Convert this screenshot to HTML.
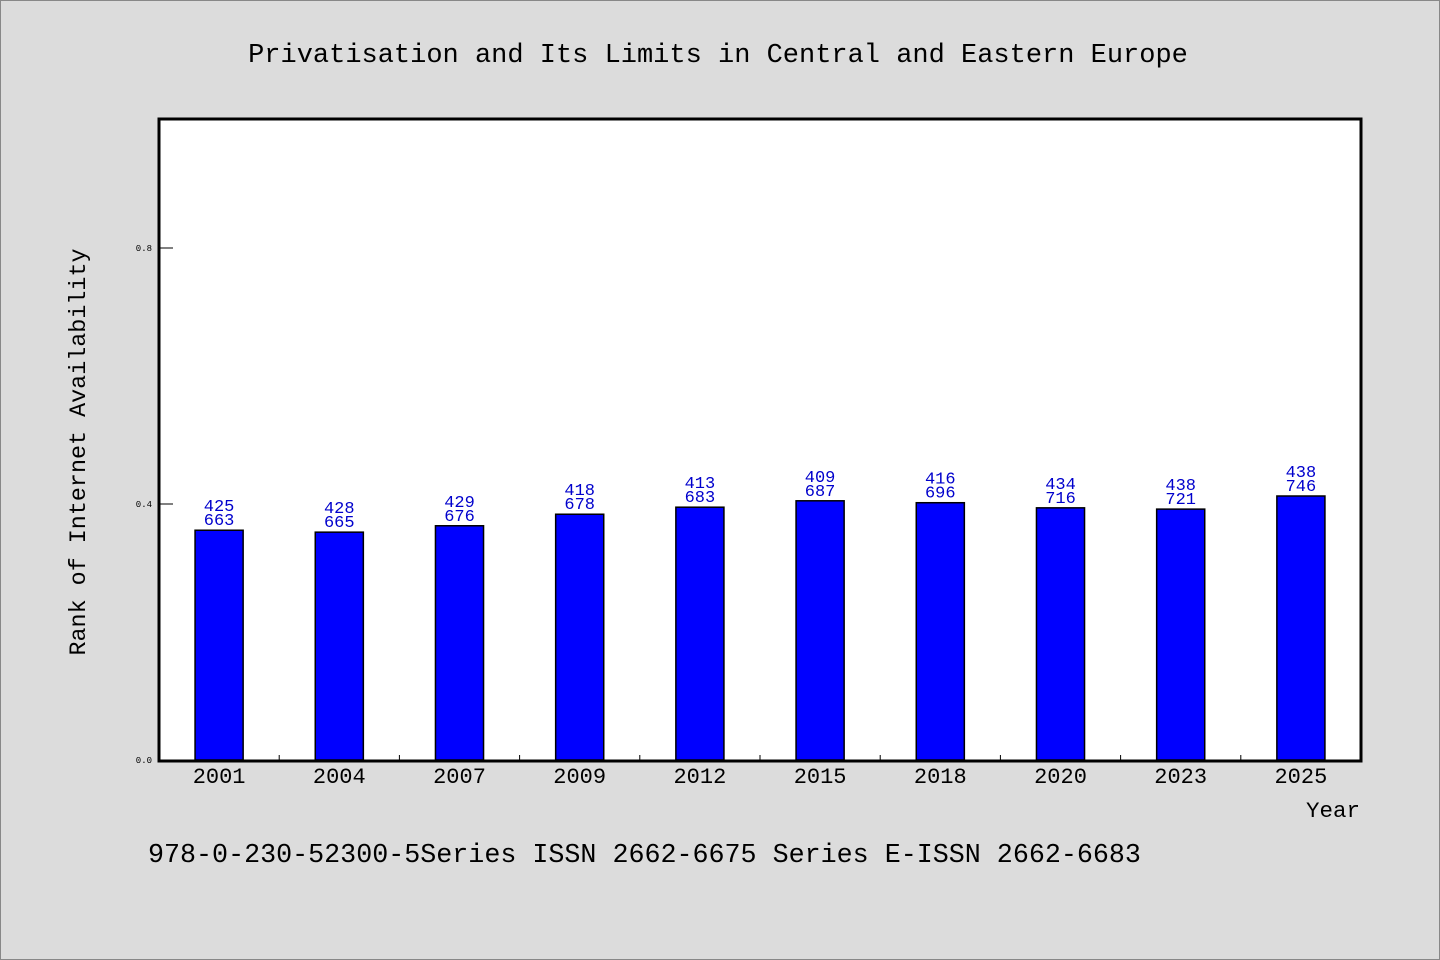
<!DOCTYPE html>
<html><head><meta charset="utf-8">
<style>
html,body{margin:0;padding:0;background:#dcdcdc;}
svg{display:block;font-family:"Liberation Mono","DejaVu Sans Mono",monospace;}
</style></head>
<body>
<svg id="chart" width="1440" height="960" viewBox="0 0 1440 960">
<rect x="0.5" y="0.5" width="1439" height="959" fill="#dcdcdc" stroke="#888"/>
<text x="718" y="62" text-anchor="middle" font-size="27" fill="#000">Privatisation and Its Limits in Central and Eastern Europe</text>
<rect x="159" y="119" width="1202" height="642" fill="#fff"/>
<g id="bars"></g>
<g id="yaxis"></g>
<g id="xaxis"></g>
<rect x="159" y="119" width="1202" height="642" fill="none" stroke="#000" stroke-width="3"/>
<text x="85" y="452" text-anchor="middle" font-size="23.4" transform="rotate(-90 85 452)" fill="#000">Rank of Internet Availability</text>
<text x="1360" y="817" text-anchor="end" font-size="22.5" fill="#000">Year</text>
<text x="148" y="862" font-size="26.7" fill="#000">978-0-230-52300-5Series ISSN 2662-6675 Series E-ISSN 2662-6683</text>
</svg>
<script>
const categories = ["2001","2004","2007","2009","2012","2015","2018","2020","2023","2025"];
const values = [0.359,0.356,0.366,0.384,0.395,0.405,0.402,0.394,0.392,0.4125];
const labelTop = ["425","428","429","418","413","409","416","434","438","438"];
const labelBottom = ["663","665","676","678","683","687","696","716","721","746"];
const yTicks = [0.0,0.4,0.8];
const yTickLabels = ["0.0","0.4","0.8"];

const NS="http://www.w3.org/2000/svg";
const X0=159, X1=1361, Y0=760, YTOP=120, YMAX=1.0;
const band=(X1-X0)/categories.length;
function xC(i){return X0+band*(i+0.5);}
function yS(v){return Y0-(Y0-YTOP)*v/YMAX;}
function mk(tag,attrs,parent){const e=document.createElementNS(NS,tag);for(const k in attrs)e.setAttribute(k,attrs[k]);parent.appendChild(e);return e;}
const gb=document.getElementById('bars'), gy=document.getElementById('yaxis'), gx=document.getElementById('xaxis');
const bw=band*0.4;
values.forEach((v,i)=>{
  const r=mk('rect',{x:xC(i)-bw/2,y:yS(v),width:bw,height:Y0-yS(v),fill:'#0000ff',stroke:'#000','stroke-width':1.5},gb);
  
  
  const t1=mk('text',{x:xC(i),y:yS(v)-19,'text-anchor':'middle','font-size':17,fill:'#0000cc'},gb);
  t1.textContent=labelTop[i];
  
  
  const t2=mk('text',{x:xC(i),y:yS(v)-5,'text-anchor':'middle','font-size':17,fill:'#0000cc'},gb);
  t2.textContent=labelBottom[i];
  
  
  const xl=mk('text',{x:xC(i),y:783,'text-anchor':'middle','font-size':22,fill:'#000'},gx);
  xl.textContent=categories[i];
  
  
  if(i>0){
    const tk=mk('line',{x1:X0+band*i,x2:X0+band*i,y1:Y0,y2:Y0-5,stroke:'#000','stroke-width':1},gx);
    
    
  }
});
yTicks.forEach((v,i)=>{
  const l=mk('line',{x1:159,x2:173,y1:yS(v),y2:yS(v),stroke:'#000','stroke-width':1},gy);
  
  
  const t=mk('text',{x:152,y:yS(v)+3,'text-anchor':'end','font-size':9,fill:'#000'},gy);
  t.textContent=yTickLabels[i];
  
  
});
</script>
</body></html>
